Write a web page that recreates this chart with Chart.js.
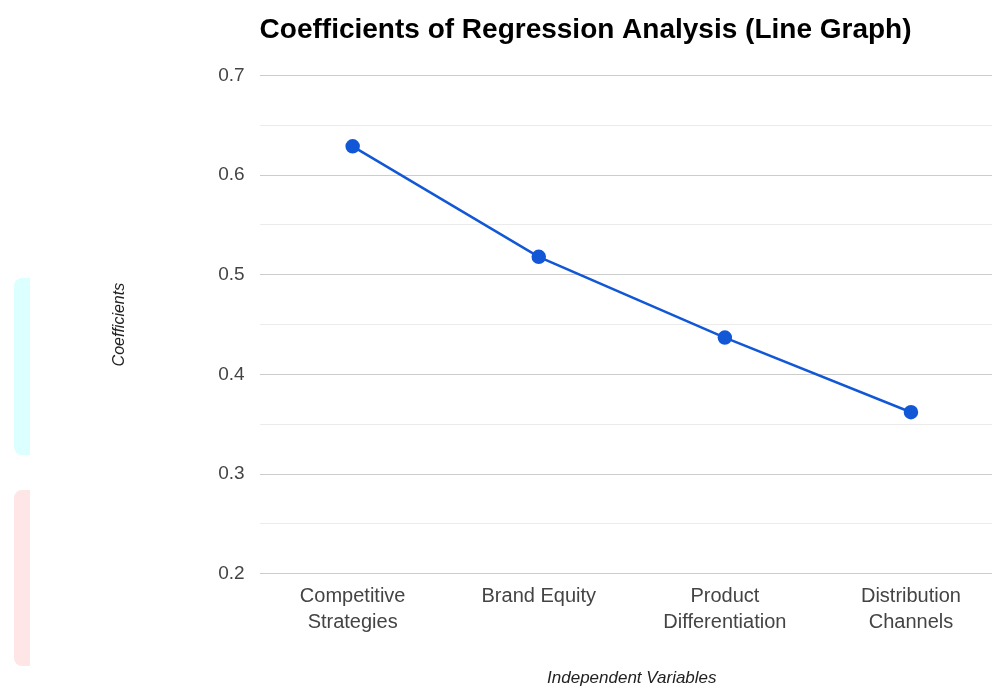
<!DOCTYPE html>
<html lang="en">
<head>
    <meta charset="UTF-8">
    <title>Coefficients of Regression Analysis</title>
    <script src="https://cdn.jsdelivr.net/npm/chart.js"></script>
    <style>
        body { margin: 0; overflow: hidden; background: #fff; }
        .wrap { position: relative; width: 1180px; height: 688px; }
        .tab { position: absolute; left: 14px; width: 16px; border-radius: 8px 0 0 8px; }
        .tab.cyan { top: 278px; height: 177px; background: #dcffff; }
        .tab.pink { top: 490px; height: 176px; background: #ffe6e6; }
    </style>
</head>
<body>
    <div class="wrap">
        <div class="tab cyan"></div>
        <div class="tab pink"></div>
        <canvas id="grafico" width="1180" height="688"></canvas>
    </div>
<script>
    // dados
    const variaveis = [
        ['Competitive', 'Strategies'],
        'Brand Equity',
        ['Product', 'Differentiation'],
        ['Distribution', 'Channels']
    ];
    const coeficientes = [0.629, 0.518, 0.437, 0.362];

    const fonte = "'Liberation Sans', Arial, sans-serif";

    function ehMaior(v) {
        return Math.abs(v * 10 - Math.round(v * 10)) < 1e-6;
    }

    const config = {
        type: 'line',
        data: {
            labels: variaveis,
            datasets: [{
                label: 'Coefficients',
                data: coeficientes,
                borderColor: '#1258d6',
                backgroundColor: '#1258d6',
                borderWidth: 2.5,
                pointRadius: 6,
                pointHoverRadius: 6,
                tension: 0
            }]
        },
        options: {
            responsive: false,
            animation: false,
            layout: { padding: { left: 106, right: 176, top: 0, bottom: 0 } },
            plugins: {
                legend: { display: false },
                tooltip: { enabled: false },
                title: {
                    display: true,
                    fullSize: false,
                    align: 'start',
                    text: 'Coefficients of Regression Analysis (Line Graph)',
                    color: '#000',
                    font: { family: fonte, size: 28, weight: 'bold' },
                    padding: { top: 13, bottom: 29 }
                }
            },
            scales: {
                x: {
                    offset: true,
                    grid: { display: false },
                    border: { display: false },
                    ticks: {
                        color: '#444',
                        font: { family: fonte, size: 20, lineHeight: 1.3 },
                        padding: 2,
                        maxRotation: 0
                    },
                    title: {
                        display: true,
                        text: 'Independent Variables',
                        color: '#222',
                        font: { family: fonte, size: 17, style: 'italic' },
                        padding: { top: 30, bottom: 0 }
                    }
                },
                y: {
                    min: 0.2,
                    max: 0.7,
                    border: { display: false },
                    grid: {
                        drawTicks: false,
                        lineWidth: 1,
                        color: c => ehMaior(c.tick.value) ? '#cccccc' : '#ebebeb'
                    },
                    ticks: {
                        stepSize: 0.05,
                        color: '#444',
                        padding: 15,
                        font: { family: fonte, size: 19 },
                        callback: v => ehMaior(v) ? v.toFixed(1) : ''
                    },
                    title: {
                        display: true,
                        text: 'Coefficients',
                        color: '#222',
                        font: { family: fonte, size: 16, style: 'italic' },
                        padding: { top: 4, bottom: 74 }
                    }
                }
            }
        }
    };

    new Chart(document.getElementById('grafico'), config);
</script>
</body>
</html>
